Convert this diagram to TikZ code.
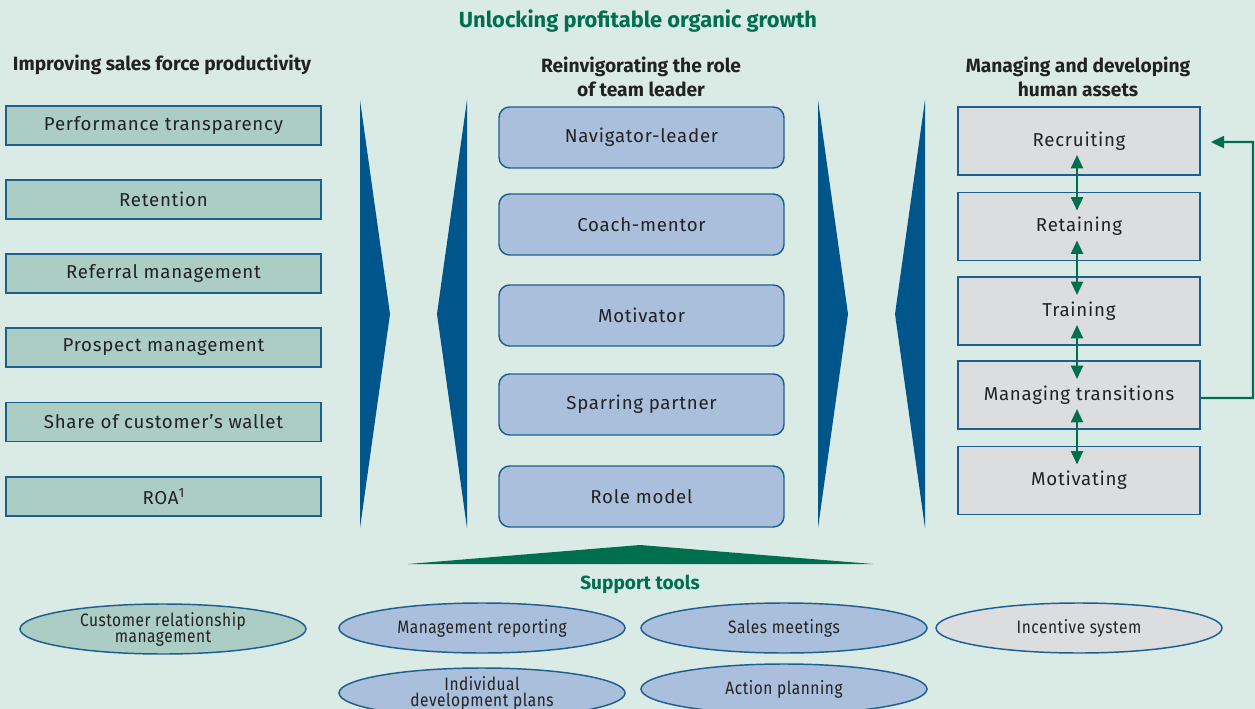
\documentclass[tikz,border=0pt]{standalone}
\usepackage{fontspec}
\setmainfont{Fira Sans}
\newfontfamily\boxfont[LetterSpace=4]{Fira Sans}
\newfontfamily\ellfont[FakeStretch=0.86,LetterSpace=3]{Fira Sans}
\usetikzlibrary{arrows.meta,calc,shapes.geometric}
\definecolor{bgc}{HTML}{DAEAE5}
\definecolor{tealfill}{HTML}{ABCDC4}
\definecolor{bluefill}{HTML}{AABFDB}
\definecolor{greyfill}{HTML}{DCDDDF}
\definecolor{edgeblue}{HTML}{1E5F91}
\definecolor{wedgeblue}{HTML}{00558A}
\definecolor{leafgreen}{HTML}{006F4E}
\definecolor{inkc}{HTML}{222222}
\begin{document}
\begin{tikzpicture}[x=0.75pt,y=-0.75pt,
  every node/.style={text=inkc},
  heading/.style={font=\fontsize{14.4}{18}\selectfont\bfseries, align=center},
  greenhead/.style={font=\fontsize{16.4}{19}\selectfont\bfseries, text=leafgreen},
  boxtext/.style={font=\boxfont\fontsize{14}{16}\selectfont},
  lbox/.style={boxtext, draw=edgeblue, line width=1.1pt, fill=tealfill, minimum width=315*0.75pt,
    minimum height=39*0.75pt, inner sep=0pt},
  mbox/.style={boxtext, draw=edgeblue, line width=1.1pt, fill=bluefill, rounded corners=8pt,
    minimum width=285*0.75pt, minimum height=61*0.75pt, inner sep=0pt},
  rbox/.style={boxtext, draw=edgeblue, line width=1.1pt, fill=greyfill, minimum width=242*0.75pt,
    minimum height=68*0.75pt, inner sep=0pt},
  tool/.style={ellipse, draw=edgeblue, line width=1.1pt, minimum width=286*0.75pt,
    minimum height=50*0.75pt, inner sep=0pt, align=center,
    font=\ellfont\fontsize{13.5}{12}\selectfont},
  wedge/.style={fill=wedgeblue},
  link/.style={draw=leafgreen, line width=1.6pt},
  twoway/.style={link, {Triangle[width=9pt,length=10pt]}-{Triangle[width=9pt,length=10pt]}},
  oneway/.style={link, -{Triangle[width=9pt,length=10pt]}}
]
\fill[bgc] (0,0) rectangle (1255,709);
\useasboundingbox (0,0) rectangle (1255,709);

% headings
\node[greenhead] (title) at (638,21) {Unlocking profitable organic growth};
\node[heading] (h1) at (162,65) {Improving sales force productivity};
\node[heading] (h2) at (641,77) {Reinvigorating the role\\of team leader};
\node[heading] (h3) at (1078,77) {Managing and developing\\human assets};

% left column
\node[lbox] (l1) at (163.5,125.5) {Performance transparency};
\node[lbox] (l2) at (163.5,199.5) {Retention};
\node[lbox] (l3) at (163.5,273.5) {Referral management};
\node[lbox] (l4) at (163.5,347.5) {Prospect management};
\node[lbox] (l5) at (163.5,422) {Share of customer’s wallet};
\node[lbox] (l6) at (163.5,496.5) {ROA\raisebox{5pt}{\fontsize{10}{10}\selectfont 1}};

% wedges between columns
\fill[wedge] (360,100) -- (390,314) -- (360,528) -- cycle;
\fill[wedge] (467,100) -- (437,314) -- (467,528) -- cycle;
\fill[wedge] (818,100) -- (848,314) -- (818,528) -- cycle;
\fill[wedge] (925,100) -- (895,314) -- (925,528) -- cycle;

% middle column
\node[mbox] (m1) at (641.5,137.5) {Navigator-leader};
\node[mbox] (m2) at (641.5,224.5) {Coach-mentor};
\node[mbox] (m3) at (641.5,315.5) {Motivator};
\node[mbox] (m4) at (641.5,404.5) {Sparring partner};
\node[mbox] (m5) at (641.5,496.5) {Role model};

% right column
\node[rbox] (r1) at (1079,141) {\raisebox{2pt}{Recruiting}};
\node[rbox] (r2) at (1079,226.5) {\raisebox{2pt}{Retaining}};
\node[rbox] (r3) at (1079,311) {\raisebox{2pt}{Training}};
\node[rbox] (r4) at (1079,395) {\raisebox{2pt}{Managing transitions}};
\node[rbox] (r5) at (1079,480.5) {\raisebox{2pt}{Motivating}};

\draw[twoway] ([xshift=-1.5pt,yshift=-10.5pt]r1.center) -- ([xshift=-1.5pt,yshift=12pt]r2.center);
\draw[twoway] ([xshift=-1.5pt,yshift=-10.5pt]r2.center) -- ([xshift=-1.5pt,yshift=12pt]r3.center);
\draw[twoway] ([xshift=-1.5pt,yshift=-10.5pt]r3.center) -- ([xshift=-1.5pt,yshift=12pt]r4.center);
\draw[twoway] ([xshift=-1.5pt,yshift=-10.5pt]r4.center) -- ([xshift=-1.5pt,yshift=12pt]r5.center);

\coordinate (loop) at (1253,142);
\draw[oneway] ([yshift=-2.2pt]r4.east) -| (loop) -- ([xshift=7.5pt,yshift=-0.8pt]r1.east);

% support base
\fill[leafgreen] (408,564) -- (640,545) -- (873,564) -- cycle;
\node[greenhead, font=\fontsize{14.3}{17}\selectfont\bfseries] (st) at (640,584) {Support tools};

% tools
\node[tool, fill=tealfill] (t1) at (163,629) {Customer relationship\\management};
\node[tool, fill=bluefill] (t2) at (482,628) {Management reporting};
\node[tool, fill=bluefill] (t3) at (784,628) {Sales meetings};
\node[tool, fill=greyfill] (t4) at (1079,628) {Incentive system};
\node[tool, fill=bluefill] (t5) at (482,693) {Individual\\development plans};
\node[tool, fill=bluefill] (t6) at (784,689) {Action planning};
\end{tikzpicture}
\end{document}
